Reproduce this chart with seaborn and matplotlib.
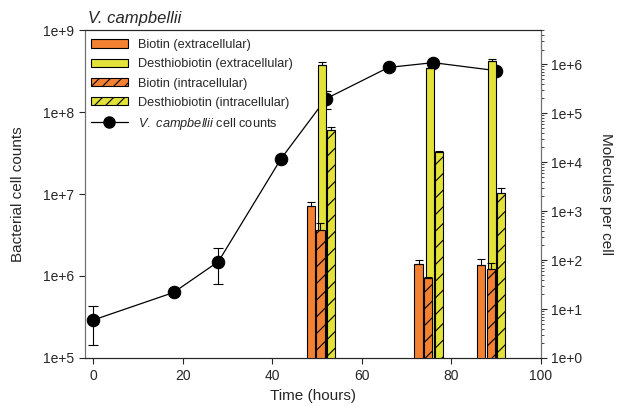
import numpy as np
import matplotlib
matplotlib.use("Agg")
import matplotlib.pyplot as plt
import seaborn as sns
from matplotlib.patches import Patch
from matplotlib.lines import Line2D
from matplotlib.ticker import FuncFormatter, LogLocator, NullLocator

# cell counts (left axis)
cell_time = [0, 18, 28, 42, 52, 66, 76, 90]
cell_counts = [2.9e5, 6.3e5, 1.5e6, 2.7e7, 1.45e8, 3.5e8, 4.0e8, 3.2e8]
cell_err = [1.45e5, 0, 7e5, 0, 3.7e7, 0, 0, 0]

# molecules per cell (right axis)
bar_time = [52, 76, 90]
biotin_ext = [1250, 85, 81]
biotin_ext_err = [300, 17, 24]
desthio_ext = [9.6e5, 8.2e5, 1.14e6]
desthio_ext_err = [1.4e5, 2e4, 1.3e5]
biotin_int = [420, 43, 67]
biotin_int_err = [150, 3, 20]
desthio_int = [4.5e4, 1.6e4, 2.3e3]
desthio_int_err = [8e3, 1e3, 6e2]

orange = "#F28132"
yellow = "#E2E23A"

sns.set_style("ticks")
plt.rcParams["font.family"] = ["Liberation Sans", "DejaVu Sans"]
plt.rcParams["mathtext.fontset"] = "custom"
plt.rcParams["mathtext.rm"] = "Liberation Sans"
plt.rcParams["mathtext.it"] = "Liberation Sans:italic"
plt.rcParams["hatch.linewidth"] = 0.8

fig = plt.figure(figsize=(6.17, 4.12), dpi=100)
ax = fig.add_axes([0.1378, 0.1311, 0.7386, 0.796])

#cell count line
sns.lineplot(x=cell_time, y=cell_counts, ax=ax, color="black", linewidth=0.9,
             marker="o", markersize=9, markeredgecolor="black", zorder=3)
ax.errorbar(cell_time, cell_counts, yerr=cell_err, fmt="none", ecolor="black",
            elinewidth=0.8, capsize=3.5, capthick=0.8, zorder=3)
ax.set_yscale("log")
ax.set_ylim(1e5, 1e9)
ax.set_xlim(-1.8, 100)
ax.set_xticks([0, 20, 40, 60, 80, 100])
ax.yaxis.set_major_locator(LogLocator(base=10, numticks=10))
ax.yaxis.set_minor_locator(NullLocator())
fmt = FuncFormatter(lambda v, p: f"1e+{int(round(np.log10(v)))}")
ax.yaxis.set_major_formatter(fmt)
ax.set_xlabel("Time (hours)", fontsize=11)
ax.set_ylabel("Bacterial cell counts", fontsize=11)
ax.yaxis.set_label_coords(-0.132, 0.5)
ax.tick_params(labelsize=10, length=4, width=0.8, pad=4)

#bars on second axis
ax2 = ax.twinx()
ax2.set_yscale("log")
w = 1.8
series = [
    (biotin_ext, biotin_ext_err, -3.3, orange, None),
    (desthio_ext, desthio_ext_err, -0.8, yellow, None),
    (biotin_int, biotin_int_err, -1.2, orange, "//"),
    (desthio_int, desthio_int_err, 1.2, yellow, "//"),
]
for vals, errs, off, col, hatch in series:
    xs = [t + off for t in bar_time]
    ax2.bar(xs, vals, width=w, color=col, edgecolor="black", linewidth=0.8,
            hatch=hatch, zorder=2)
    ax2.errorbar(xs, vals, yerr=[[0] * len(errs), errs], fmt="none", ecolor="black",
                 elinewidth=0.8, capsize=3, capthick=0.8, zorder=2)
ax2.set_ylim(1, 5e6)
ax2.yaxis.set_major_locator(LogLocator(base=10, numticks=10))
ax2.yaxis.set_minor_locator(LogLocator(base=10, subs=np.arange(2, 10), numticks=10))
ax2.yaxis.set_major_formatter(fmt)
ax2.set_ylabel("Molecules per cell", fontsize=11, rotation=270, labelpad=22)
ax2.tick_params(labelsize=10, length=4, width=0.8)
ax2.tick_params(which="minor", length=2, width=0.6)

for a in (ax, ax2):
    for s in a.spines.values():
        s.set_linewidth(0.8)
    a.spines["left"].set_color("#707070")
    a.spines["right"].set_color("#707070")

fig.text(0.143, 0.955, "V. campbellii", fontsize=12, style="italic", va="center")

handles = [
    Patch(facecolor=orange, edgecolor="black", linewidth=0.8),
    Patch(facecolor=yellow, edgecolor="black", linewidth=0.8),
    Patch(facecolor=orange, edgecolor="black", linewidth=0.8, hatch="///"),
    Patch(facecolor=yellow, edgecolor="black", linewidth=0.8, hatch="///"),
    Line2D([], [], color="black", marker="o", markersize=8, linewidth=0.9),
]
labels = ["Biotin (extracellular)", "Desthiobiotin (extracellular)",
          "Biotin (intracellular)", "Desthiobiotin (intracellular)",
          "$\\mathit{V.\\ campbellii}$ cell counts"]
ax2.legend(handles, labels, loc="upper left", bbox_to_anchor=(0.013, 0.972),
           frameon=False, fontsize=9.2, handlelength=2.9, handleheight=0.65,
           labelspacing=0.56, handletextpad=0.8, borderpad=0, borderaxespad=0)

fig.savefig("out.png", dpi=100)
